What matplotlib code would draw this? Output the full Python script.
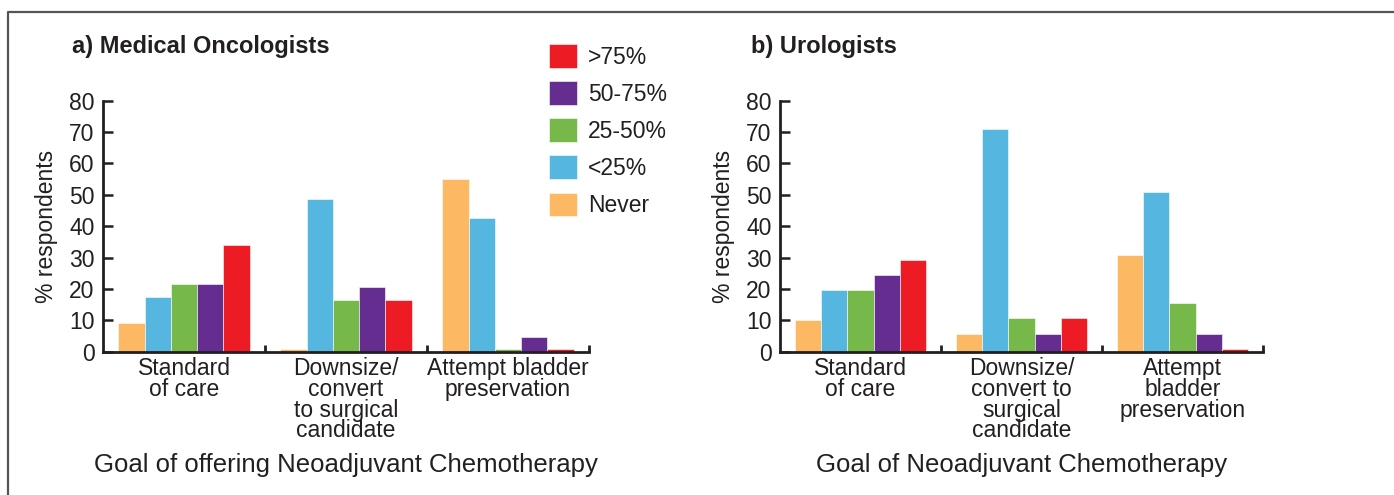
import numpy as np
import matplotlib
matplotlib.use("Agg")
import matplotlib.pyplot as plt
from matplotlib.lines import Line2D

plt.rcParams['font.family'] = ['Liberation Sans', 'DejaVu Sans']

series = ["Never", "<25%", "25-50%", "50-75%", ">75%"]
colors = ["#FDB863", "#55B6E0", "#76B84A", "#662D91", "#ED1C24"]

# a) medical oncologists, values per goal, one list per frequency band
onc_goals = ["Standard\nof care", "Downsize/\nconvert\nto surgical\ncandidate",
             "Attempt bladder\npreservation"]
onc_never = [9, 1, 55]
onc_lt25 = [17.3, 48.8, 42.5]
onc_25_50 = [21.5, 16.6, 1]
onc_50_75 = [21.5, 20.6, 4.8]
onc_gt75 = [34, 16.6, 1]

# b) urologists
uro_goals = ["Standard\nof care", "Downsize/\nconvert to\nsurgical\ncandidate",
             "Attempt\nbladder\npreservation"]
uro_never = [10.2, 5.6, 30.7]
uro_lt25 = [19.7, 70.9, 50.8]
uro_25_50 = [19.7, 10.6, 15.6]
uro_50_75 = [24.5, 5.6, 5.6]
uro_gt75 = [29.3, 10.6, 1]

W, H = 1394, 495
fig = plt.figure(figsize=(W / 100, H / 100), dpi=100)
ink = "#231f20"


def panel(rect, goals, data, title, xlabel, title_x, ylabel=True):
    ax = fig.add_axes(rect)
    x = np.arange(len(goals))
    w = 0.162
    bars = []
    for i, (vals, c) in enumerate(zip(data, colors)):
        b = ax.bar(x + (i - 2) * w, vals, w, color=c, edgecolor="white",
                   linewidth=0.4, label=series[i])
        bars.append(b)
    ax.set_xlim(-0.5, len(goals) - 0.5)
    ax.set_ylim(0, 80)
    ax.set_yticks(range(0, 81, 10))
    ax.set_xticks(x)
    ax.set_xticklabels(goals, fontsize=16.5, linespacing=0.87, color=ink)
    ax.set_xticks(x + 0.5, minor=True)
    ax.tick_params(axis="x", which="major", length=0, pad=4)
    ax.tick_params(axis="x", which="minor", direction="in", length=5,
                   width=2, color=ink)
    ax.tick_params(axis="y", direction="in", length=7.5, width=1.8,
                   color=ink, labelsize=16.5, labelcolor=ink, pad=6)
    for s in ["top", "right"]:
        ax.spines[s].set_visible(False)
    for s in ["left", "bottom"]:
        ax.spines[s].set_linewidth(2)
        ax.spines[s].set_color(ink)
    ax.set_xlabel(xlabel, fontsize=18.5, color=ink, labelpad=8)
    if ylabel:
        ax.set_ylabel("% respondents", fontsize=16.5, color=ink, labelpad=8)
    fig.text(title_x / W, 1 - 47 / H, title, fontsize=17, fontweight="bold",
             va="center", ha="left", color=ink)
    return ax, bars


ax1, bars = panel([103 / W, 1 - 351.7 / H, 486 / W, 251 / H], onc_goals,
                  [onc_never, onc_lt25, onc_25_50, onc_50_75, onc_gt75],
                  "a) Medical Oncologists",
                  "Goal of offering Neoadjuvant Chemotherapy", 72)
ax2, _ = panel([780 / W, 1 - 351.7 / H, 483 / W, 251 / H], uro_goals,
               [uro_never, uro_lt25, uro_25_50, uro_50_75, uro_gt75],
               "b) Urologists", "Goal of Neoadjuvant Chemotherapy", 751)

fig.legend(bars[::-1], series[::-1], loc="upper left",
           bbox_to_anchor=(540 / W, 1 - 35 / H), frameon=False,
           fontsize=16.5, handlelength=1.2, handleheight=1.2,
           labelspacing=0.55, handletextpad=0.5, borderaxespad=0,
           labelcolor=ink)

# frame around the figure (top and left only)
fig.add_artist(Line2D([8 / W, 8 / W, 1], [0, 1 - 12 / H, 1 - 12 / H],
                      color="#555555", linewidth=1.6))

fig.savefig("out.png", dpi=100)
